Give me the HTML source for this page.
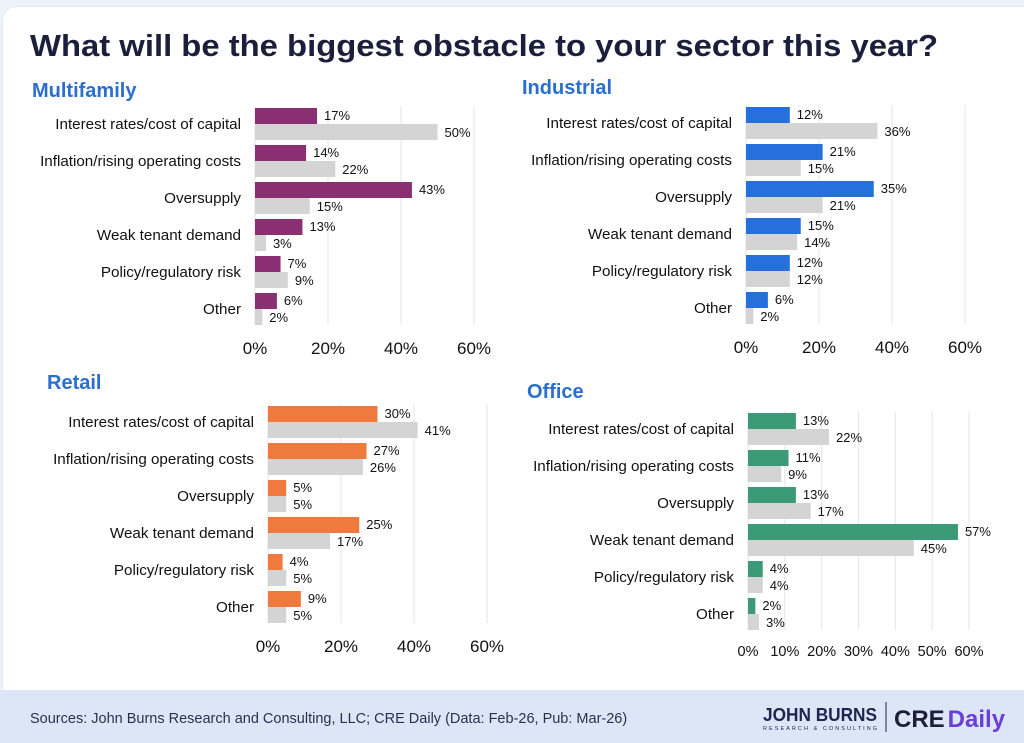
<!DOCTYPE html>
<html><head><meta charset="utf-8"><style>
body{margin:0;width:1024px;height:743px;overflow:hidden;background:#eef2fa;font-family:"Liberation Sans",sans-serif}
#card{position:absolute;left:2px;top:6px;width:1040px;height:700px;background:#fff;border-radius:14px;border:1px solid #e3e8f2}
#footer{position:absolute;left:0;top:690px;width:1024px;height:53px;background:#dde6f7}
</style></head><body>
<div id="card"></div>
<div id="footer"></div>
<svg id="s" width="1024" height="743" style="position:absolute;left:0;top:0">
<text x="30" y="56" font-size="31" font-weight="bold" fill="#1b1f3b" textLength="908" lengthAdjust="spacingAndGlyphs">What will be the biggest obstacle to your sector this year?</text>
<text x="30" y="723" font-size="14.5" fill="#2a3150">Sources: John Burns Research and Consulting, LLC; CRE Daily (Data: Feb-26, Pub: Mar-26)</text>
<text x="763" y="721" font-size="18" font-weight="bold" fill="#1b2550" textLength="114" lengthAdjust="spacingAndGlyphs">JOHN BURNS</text>
<text x="763" y="730" font-size="5.5" fill="#1b2550" textLength="114">RESEARCH &amp; CONSULTING</text>
<line x1="886" y1="702" x2="886" y2="732" stroke="#1b2550"/>
<text x="894" y="727" font-size="24" font-weight="bold" fill="#1b1f3b">CRE<tspan fill="#6a3fd8" dx="3">Daily</tspan></text>
</svg>
<script>
const categories=["Interest rates/cost of capital","Inflation/rising operating costs","Oversupply","Weak tenant demand","Policy/regulatory risk","Other"];
const multifamilyA=[17,14,43,13,7,6];
const multifamilyB=[50,22,15,3,9,2];
const industrialA=[12,21,35,15,12,6];
const industrialB=[36,15,21,14,12,2];
const retailA=[30,27,5,25,4,9];
const retailB=[41,26,5,17,5,5];
const officeA=[13,11,13,57,4,2];
const officeB=[22,9,17,45,4,3];
const ticks20=[0,20,40,60];
const ticks10=[0,10,20,30,40,50,60];
const panels=[
 {name:"Multifamily",a:multifamilyA,b:multifamilyB,color:"#8a2f72",x0:255,x60:474,top:108,tx:32,ty:97,tickY:354,ticks:ticks20,tfs:17},
 {name:"Industrial",a:industrialA,b:industrialB,color:"#2570db",x0:746,x60:965,top:107,tx:522,ty:94,tickY:353,ticks:ticks20,tfs:17},
 {name:"Retail",a:retailA,b:retailB,color:"#f07a3e",x0:268,x60:487,top:406,tx:47,ty:389,tickY:652,ticks:ticks20,tfs:17},
 {name:"Office",a:officeA,b:officeB,color:"#3b9a77",x0:748,x60:969,top:413,tx:527,ty:398,tickY:656,ticks:ticks10,tfs:14.5}
];
const NS="http://www.w3.org/2000/svg";
const svg=document.getElementById('s');
function mk(t,at,txt){const e=document.createElementNS(NS,t);for(const k in at)e.setAttribute(k,at[k]);if(txt!=null)e.textContent=txt;svg.appendChild(e);return e;}
panels.forEach(p=>{
 const key=p.name.toLowerCase();
 const sx=v=>p.x0+(p.x60-p.x0)*v/60;
 const rowH=37,bh=16;
 let t=mk('text',{x:p.tx,y:p.ty,'font-size':20,'font-weight':'bold',fill:'#2a6fd0'},p.name);
 
 
 p.ticks.forEach(v=>{
  let g=mk('line',{x1:sx(v),x2:sx(v),y1:p.top-2,y2:p.top+rowH*6-5,stroke:'#e6e6e6','stroke-width':1});
  
  
  let tl=mk('text',{x:sx(v),y:p.tickY,'font-size':p.tfs,'text-anchor':'middle',fill:'#111'},v+'%');
  
  
 });
 categories.forEach((c,i)=>{
  const y=p.top+i*rowH;
  let l=mk('text',{x:p.x0-14,y:y+bh+5,'font-size':15.2,'text-anchor':'end',fill:'#111'},c);
  
  
  let r1=mk('rect',{x:p.x0,y:y,width:sx(p.a[i])-p.x0,height:bh,fill:p.color});
  
  
  let r2=mk('rect',{x:p.x0,y:y+bh,width:sx(p.b[i])-p.x0,height:bh,fill:'#d4d4d4'});
  
  
  let v1=mk('text',{x:sx(p.a[i])+7,y:y+12,'font-size':13,fill:'#111'},p.a[i]+'%');
  
  
  let v2=mk('text',{x:sx(p.b[i])+7,y:y+bh+13,'font-size':13,fill:'#111'},p.b[i]+'%');
  
  
 });
});
</script>
</body></html>
